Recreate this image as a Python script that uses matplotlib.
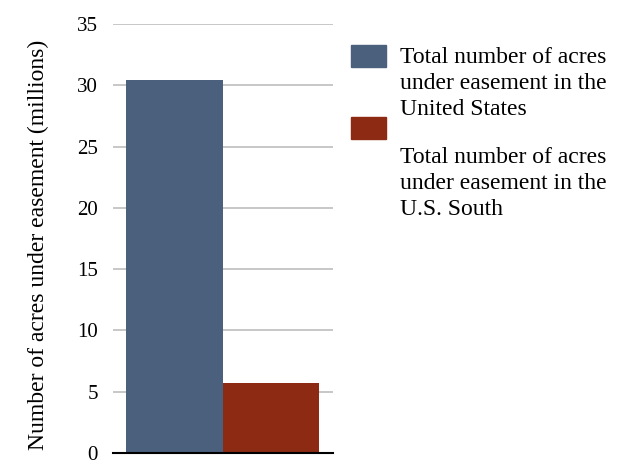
import matplotlib
matplotlib.use("Agg")
import matplotlib.pyplot as plt
from matplotlib.patches import Rectangle

categories = ["Total number of acres\nunder easement in the\nUnited States",
              "Total number of acres\nunder easement in the\nU.S. South"]
values = [30.4, 5.7]
colors = ["#4b607c", "#8c2a14"]
yticks = [0, 5, 10, 15, 20, 25, 30, 35]
ylabel = "Number of acres under easement (millions)"

plt.rcParams['font.family'] = ['Liberation Serif', 'DejaVu Serif']

fig = plt.figure(figsize=(6.3, 4.61), dpi=100)
ax = fig.add_axes([113/630, 8/461, 220/630, 429/461])

xs = [0, 1]
ax.bar(xs, values, width=1.0, color=colors, zorder=3)
ax.set_xlim(-0.64, 1.65)
ax.set_ylim(0, 35)
ax.set_yticks(yticks)
ax.set_yticklabels([str(t) for t in yticks], fontsize=15)
for lab in ax.get_yticklabels():
    lab.set_verticalalignment('center_baseline')
ax.yaxis.grid(True, color="#bdbdbd", linewidth=1.2, zorder=0)
ax.set_xticks([])
ax.tick_params(axis='y', length=0, pad=11)
for s in ['top', 'right', 'left']:
    ax.spines[s].set_visible(False)
ax.spines['bottom'].set_color('black')
ax.spines['bottom'].set_linewidth(1.5)
ax.spines['bottom'].set_zorder(4)
ax.set_ylabel(ylabel, fontsize=17)
ax.yaxis.set_label_coords(-0.29, 0.486)

# legend
patch_y = [45, 117]
baselines = [[63, 89, 115], [163, 189, 215]]
for c, lab, py, bls in zip(colors, categories, patch_y, baselines):
    fig.patches.append(Rectangle((351/630, 1 - (py + 22)/461), 35/630, 22/461,
                                 transform=fig.transFigure, color=c))
    for line, b in zip(lab.split("\n"), bls):
        fig.text(400/630, 1 - b/461, line, fontsize=17, va='baseline', ha='left')

fig.savefig("out.png", dpi=100)
